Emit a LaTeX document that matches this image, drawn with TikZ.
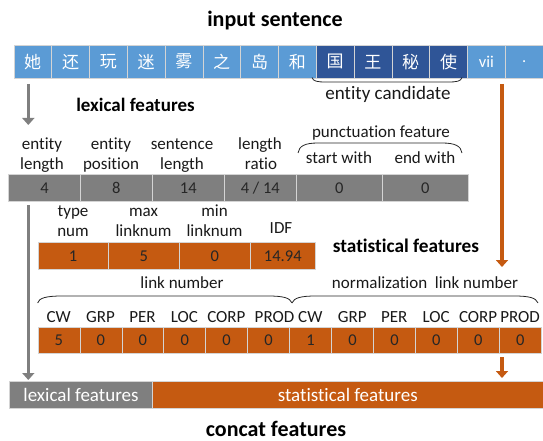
\documentclass[tikz,border=0pt]{standalone}
\usepackage{fontspec}
\setmainfont{Carlito}[Ligatures=NoCommon]
\newfontfamily\cjkfont{Noto Sans CJK SC}
\usetikzlibrary{arrows.meta}
\definecolor{tokblue}{HTML}{5B9BD5}
\definecolor{entblue}{HTML}{2F5597}
\definecolor{lexgray}{HTML}{7F7F7F}
\definecolor{statorange}{HTML}{C55A11}
\definecolor{sepline}{HTML}{D4D4D4}
\definecolor{valtext}{HTML}{262626}
\newcommand\fsz[1]{\fontsize{#1}{#1}\selectfont}
\begin{document}
\begin{tikzpicture}[x=1pt,y=-1pt,
  cellbox/.style={draw=sepline, line width=0.6pt, inner sep=0pt, anchor=north west},
  tokcell/.style={cellbox, minimum width=37.8pt, minimum height=33pt, text=white, font=\cjkfont\fsz{17}},
  lexcell/.style={cellbox, fill=lexgray, minimum height=27pt, text=valtext, font=\fsz{16.5}},
  statcell/.style={cellbox, fill=statorange, minimum height=27pt, text=valtext, font=\fsz{16.5}},
  linkcell/.style={cellbox, fill=statorange, minimum width=41.95pt, minimum height=26pt, text=valtext, font=\fsz{16.5}},
  lbl/.style={anchor=base, inner sep=0pt, font=\fsz{17}, text=black!90},
  heading/.style={anchor=base, inner sep=0pt, font=\bfseries\fsz{19.3}},
  bracketline/.style={draw=black!85, line width=0.8pt},
  grayarrow/.style={draw=lexgray, line width=3.5pt, -{Triangle[width=12pt,length=7pt]}},
  orangearrow/.style={draw=statorange, line width=3.5pt, -{Triangle[width=12pt,length=7pt]}}
]
\useasboundingbox (0,0) rectangle (543,441);

% ---- input sentence ----
\node[heading, font=\bfseries\fsz{22}] (title) at (275,27) {input sentence};
\foreach \t [count=\i] in {她,还,玩,迷,雾,之,岛,和}
  \node[tokcell, fill=tokblue] (t\i) at ({13.5+(\i-1)*37.8},45) {\t};
\foreach \t [count=\i from 9] in {国,王,秘,使}
  \node[tokcell, fill=entblue] (t\i) at ({13.5+(\i-1)*37.8},45) {\t};
\node[tokcell, fill=tokblue, font=\fsz{16.5}] (t13) at ({13.5+12*37.8},45) {vii};
\node[tokcell, fill=tokblue, font=\fsz{16.5}] (t14) at ({13.5+13*37.8},45) {.};

% bracket under the entity candidate
\draw[bracketline] (312,77.5) .. controls (313,81.5) and (318,82) .. (326,82)
  -- (448,82) .. controls (456,82) and (461,81.5) .. (462,77.5);
\node[lbl, font=\fsz{19}] (cand) at (388,100) {entity candidate};

% ---- lexical features ----
\node[heading, font=\bfseries\fsz{19}] (lexhead) at (135.5,112) {lexical features};
\node[lexcell, minimum width=71.6pt] (l1) at (8.4,174) {4};
\node[lexcell, minimum width=72pt] (l2) at (80,174) {8};
\node[lexcell, minimum width=72pt] (l3) at (152,174) {14};
\node[lexcell, minimum width=72pt] (l4) at (224,174) {4 / 14};
\node[lexcell, minimum width=86pt] (l5) at (296,174) {0};
\node[lexcell, minimum width=86pt] (l6) at (382,174) {0};

\node[lbl] (la1) at (42,149) {entity};
\node[lbl] (lb1) at (42,169.5) {length};
\node[lbl] (la2) at (111,149) {entity};
\node[lbl] (lb2) at (111,169.5) {position};
\node[lbl] (la3) at (182,149) {sentence};
\node[lbl] (lb3) at (182,169.5) {length};
\node[lbl] (la4) at (260,149) {length};
\node[lbl] (lb4) at (261,169.5) {ratio};
\node[lbl] (punct) at (381,137) {punctuation feature};
\node[lbl] (sw) at (339,163.5) {start with};
\node[lbl] (ew) at (425,163.5) {end with};
\draw[bracketline] (298,153) .. controls (299,146) and (305,143) .. (318,143)
  -- (442,143) .. controls (455,143) and (461,146) .. (462,153);

% ---- statistical features ----
\node[statcell, minimum width=70.4pt] (s1) at (37.6,242) {1};
\node[statcell, minimum width=71pt] (s2) at (108,242) {5};
\node[statcell, minimum width=71pt] (s3) at (179,242) {0};
\node[statcell, minimum width=65pt] (s4) at (250,242) {14.94};
\node[lbl] (sa1) at (73,216) {type};
\node[lbl] (sb1) at (73,236) {num};
\node[lbl] (sa2) at (143.5,216) {max};
\node[lbl] (sb2) at (143.5,236) {linknum};
\node[lbl] (sa3) at (214.5,216) {min};
\node[lbl] (sb3) at (214.5,236) {linknum};
\node[lbl] (sb4) at (281,233) {IDF};
\node[heading] (stathead) at (406,252) {statistical features};

% ---- link numbers ----
\node[lbl] (lnk) at (182,288) {link number};
\node[lbl] (nlnk) at (425,288) {normalization\ \ link number};
\draw[bracketline] (37.6,303) .. controls (39,298) and (46,296) .. (62,296)
  -- (268,296) .. controls (284,296) and (290,298) .. (292,303);
\draw[bracketline] (292,303) .. controls (294,298) and (300,296) .. (316,296)
  -- (514,296) .. controls (530,296) and (536,298) .. (538,303);
\foreach \v [count=\i] in {5,0,0,0,0,0,1,0,0,0,0,0} {
  \node[linkcell] (k\i) at ({37.6+(\i-1)*41.95},327) {\v};
}
\foreach \n [count=\i] in {CW,GRP,PER,LOC,CORP} {
  \node[lbl] (kl\i) at ({58.6+(\i-1)*41.95},322) {\n};
}
\node[lbl] (kl6) at (274.5,322) {PROD};
\foreach \n [count=\i from 7] in {CW,GRP,PER,LOC,CORP,PROD} {
  \node[lbl] (kl\i) at ({58.6+(\i-1)*41.95},322) {\n};
}

% ---- concat features ----
\node[cellbox, fill=lexgray, minimum width=142.6pt, minimum height=27pt, text=white, font=\fsz{19}] (cl) at (9.4,381) {lexical features};
\node[cellbox, fill=statorange, minimum width=391pt, minimum height=27pt, text=white, font=\fsz{19}] (cs) at (152,381) {statistical features};
\node[heading, font=\bfseries\fsz{22}] (concat) at (276,436) {concat features};

% ---- flow arrows ----
\coordinate (g1s) at (28.3,84);
\coordinate (g1e) at (28.3,125);
\coordinate (g2s) at (28.3,205);
\coordinate (g2e) at (28.3,380);
\coordinate (o1s) at (502,84);
\coordinate (o1e) at (502,267);
\coordinate (o2s) at (502,357);
\coordinate (o2e) at (502,378);
\draw[grayarrow] (g1s) -- (g1e);
\draw[grayarrow] (g2s) -- (g2e);
\draw[orangearrow] (o1s) -- (o1e);
\draw[orangearrow] (o2s) -- (o2e);
\end{tikzpicture}
\end{document}
